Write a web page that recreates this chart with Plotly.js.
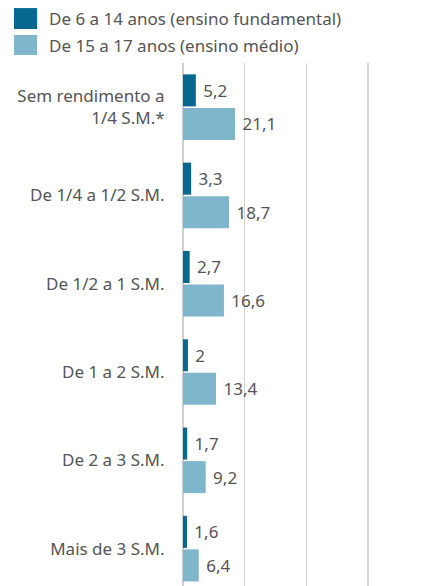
<!DOCTYPE html>
<html>
<head>
<meta charset="utf-8">
<script src="https://cdn.plot.ly/plotly-3.0.1.min.js"></script>
<style>html,body{margin:0;padding:0;background:#fff;}#chart{width:421px;height:586px;}</style>
</head>
<body>
<div id="chart"></div>
<script>
var categories = ["Sem rendimento a<br>1/4 S.M.*", "De 1/4 a 1/2 S.M.", "De 1/2 a 1 S.M.", "De 1 a 2 S.M.", "De 2 a 3 S.M.", "Mais de 3 S.M."];
var seriesNames = ["De 6 a 14 anos (ensino fundamental)", "De 15 a 17 anos (ensino médio)"];
var fundamental = [5.2, 3.3, 2.7, 2, 1.7, 1.6];
var medio = [21.1, 18.7, 16.6, 13.4, 9.2, 6.4];
var colors = ["#07688f", "#7fb6cc"];

function fmt(v){ return '\u00a0' + String(v).replace('.', ','); }

var FONT = "Noto Sans, sans-serif";
var FS = 17;
var series = [fundamental, medio];
var traces = series.map(function(vals, i){
  return {
    type: 'bar', orientation: 'h',
    name: seriesNames[i],
    x: vals, y: categories,
    marker: {color: colors[i]},
    text: vals.map(fmt),
    textposition: 'outside',
    textfont: {family: FONT, size: FS, color: '#555'},
    cliponaxis: false,
    hoverinfo: 'x+y'
  };
});

var shapes = [], annotations = [];
var legY = [[1.105, 1.065], [1.0535, 1.0153]];
seriesNames.forEach(function(n, i){
  shapes.push({type:'rect', xref:'paper', yref:'paper', x0:-0.710, x1:-0.613, y0:legY[i][1], y1:legY[i][0], fillcolor: colors[i], line:{width:0}});
  annotations.push({xref:'paper', yref:'paper', x:-0.57, y:(legY[i][0]+legY[i][1])/2, xanchor:'left', yanchor:'middle', text:n, showarrow:false, font:{family:FONT, size:FS, color:'#555'}});
});

var layout = {
  width: 421, height: 586,
  margin: {l:183, r:0, t:63, b:0, pad:0},
  showlegend: false,
  barmode: 'group', bargap: 0.24, bargroupgap: 0.045,
  paper_bgcolor: '#fff', plot_bgcolor: '#fff',
  xaxis: {range:[0, 96.5], dtick:25, tick0:0, showticklabels:false, showgrid:true, gridcolor:'#d4d4d4', gridwidth:1.3, zeroline:true, zerolinecolor:'#cfcfcf', zerolinewidth:1.5, fixedrange:true},
  yaxis: {range:[5.423, -0.5], type:'category', showgrid:false, zeroline:false, ticks:'outside', ticklen:14, tickcolor:'rgba(0,0,0,0)', tickfont:{family:FONT, size:FS, color:'#555'}, fixedrange:true},
  shapes: shapes,
  annotations: annotations,
  font: {family: FONT, color:'#555'}
};

Plotly.newPlot('chart', traces, layout, {displayModeBar:false, staticPlot:true});
</script>
</body>
</html>
